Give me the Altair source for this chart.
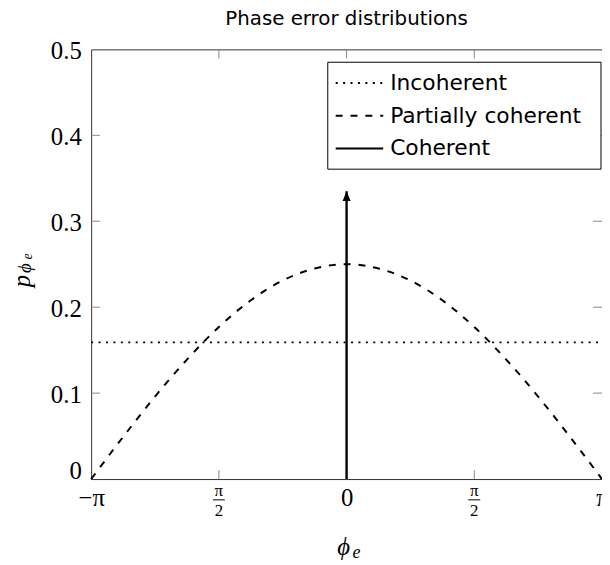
import math
import altair as alt
import pandas as pd

PI = math.pi

# ---- data ----
series = ["Incoherent", "Partially coherent", "Coherent"]

incoherent_x = [-PI, PI]
incoherent_y = [0.159, 0.159]

partial_x = [-PI, -7 * PI / 8, -3 * PI / 4, -5 * PI / 8, -PI / 2, -3 * PI / 8, -PI / 4, -PI / 8, 0.0,
             PI / 8, PI / 4, 3 * PI / 8, PI / 2, 5 * PI / 8, 3 * PI / 4, 7 * PI / 8, PI]
partial_y = [0.0, 0.049, 0.096, 0.139, 0.177, 0.208, 0.231, 0.245, 0.25,
             0.245, 0.231, 0.208, 0.177, 0.139, 0.096, 0.049, 0.0]

coherent_x = [0.0, 0.0]
coherent_y = [0.0, 0.335]

x_ticks = [-PI, -PI / 2, 0.0, PI / 2, PI]
y_ticks = [0.0, 0.1, 0.2, 0.3, 0.4, 0.5]
frac_ticks = [-PI / 2, PI / 2]

title_text = "Phase error distributions"

# ---- tables ----
def table(name, xs, ys):
    return pd.DataFrame({"series": name, "x": xs, "y": ys, "o": list(range(len(xs)))})

df_inc = table(series[0], incoherent_x, incoherent_y)
df_par = table(series[1], partial_x, partial_y)
df_coh = table(series[2], coherent_x, coherent_y)
df_tip = df_coh.iloc[[-1]]
df_xt = pd.DataFrame({"x": x_ticks[1:-1]})
df_yt = pd.DataFrame({"y": y_ticks[1:-1]})
df_frac = pd.DataFrame({"x": frac_ticks})
one = pd.DataFrame({"a": [0]})

W, H = 516, 434
x_scale = alt.Scale(domain=[-PI, PI], nice=False, zero=False)
y_scale = alt.Scale(domain=[0, 0.5], nice=False)
dash_scale = alt.Scale(domain=series, range=[[2, 5.5], [7, 8], [1, 0]])

x_axis = alt.Axis(
    values=x_ticks, title=None, grid=False, ticks=False, domain=False,
    labelExpr="datum.value < -3 ? '\u2212\u03c0' : (datum.value > 3 ? '\u03c0' : (abs(datum.value) < 0.01 ? '0' : ''))",
    labelFont="Liberation Serif", labelFontSize=25, labelColor="black",
    labelPadding=7, labelFlush=False, labelOverlap=False,
)
y_axis = alt.Axis(
    values=y_ticks, title=None, grid=False, ticks=False, domain=False,
    labelExpr="datum.value == 0 ? '0' : format(datum.value, '.1f')",
    labelFont="Liberation Serif", labelFontSize=25, labelColor="black",
    labelPadding=10, labelFlush=False, labelOverlap=False,
    labelOffset={"condition": {"test": "datum.value == 0", "value": -9}, "value": 1},
)

base_enc = dict(
    x=alt.X("x:Q", scale=x_scale, axis=x_axis),
    y=alt.Y("y:Q", scale=y_scale, axis=y_axis),
    strokeDash=alt.StrokeDash("series:N", scale=dash_scale, legend=None),
    order="o:Q",
)

inc = alt.Chart(df_inc).mark_line(color="black", strokeWidth=1.8).encode(**base_enc)
par = alt.Chart(df_par).mark_line(color="black", strokeWidth=2, interpolate="monotone").encode(**base_enc)
coh = alt.Chart(df_coh).mark_line(color="black", strokeWidth=2.4, strokeCap="butt").encode(**base_enc)

tip = alt.Chart(df_tip).mark_point(
    shape="M0,-1L-0.8,1L0.8,1Z", size=100, filled=True, color="black", opacity=1, yOffset=5
).encode(x=alt.X("x:Q", scale=x_scale), y=alt.Y("y:Q", scale=y_scale))

tick_color = "#888"
xt_bottom = alt.Chart(df_xt).mark_rule(color=tick_color, strokeWidth=1).encode(
    x=alt.X("x:Q", scale=x_scale), y=alt.value(H), y2=alt.value(H - 9))
xt_top = alt.Chart(df_xt).mark_rule(color=tick_color, strokeWidth=1).encode(
    x=alt.X("x:Q", scale=x_scale), y=alt.value(0), y2=alt.value(9))
yt_left = alt.Chart(df_yt).mark_rule(color=tick_color, strokeWidth=1).encode(
    y=alt.Y("y:Q", scale=y_scale), x=alt.value(0), x2=alt.value(9))
yt_right = alt.Chart(df_yt).mark_rule(color=tick_color, strokeWidth=1).encode(
    y=alt.Y("y:Q", scale=y_scale), x=alt.value(W - 9), x2=alt.value(W))

frac_num = alt.Chart(df_frac).mark_text(
    text="\u03c0", font="Liberation Serif", fontSize=17, align="center", baseline="middle", color="black"
).encode(x=alt.X("x:Q", scale=x_scale), y=alt.value(446))
frac_bar = alt.Chart(df_frac).mark_rule(color="black", strokeWidth=1, xOffset=-6, x2Offset=6).encode(
    x=alt.X("x:Q", scale=x_scale), x2="x:Q", y=alt.value(455))
frac_den = alt.Chart(df_frac).mark_text(
    text="2", font="Liberation Serif", fontSize=17, align="center", baseline="middle", color="black"
).encode(x=alt.X("x:Q", scale=x_scale), y=alt.value(466))

def txt(s, size, xv, yv, angle=0, font="Liberation Serif", style="italic", align="center", baseline="middle"):
    return alt.Chart(one).mark_text(
        text=s, font=font, fontStyle=style, fontSize=size,
        align=align, baseline=baseline, color="black", angle=angle,
    ).encode(x=alt.value(xv), y=alt.value(yv))

xtitle_phi = txt("\u03d5", 25, 255, 503)
xtitle_e = txt("e", 18, 268, 509)
ytitle_p = txt("p", 25, -70, 234, 270)
ytitle_phi = txt("\u03d5", 19, -67, 221, 270)
ytitle_e = txt("e", 14, -64, 209, 270)

title = txt(title_text, 20, W / 2, -25, font="DejaVu Sans", style="normal", baseline="alphabetic")

# ---- legend box (inside the plot, top right) ----
leg_box = alt.Chart(one).mark_rect(fill="white", stroke="black", strokeWidth=1).encode(
    x=alt.value(239), x2=alt.value(515), y=alt.value(13), y2=alt.value(121))
leg_layers = [leg_box]
for i, name in enumerate(series):
    yv = 34 + 33 * i
    row = pd.DataFrame({"series": [name]})
    leg_layers.append(
        alt.Chart(row).mark_rule(color="black", strokeWidth=2).encode(
            x=alt.value(247), x2=alt.value(295), y=alt.value(yv),
            strokeDash=alt.StrokeDash("series:N", scale=dash_scale, legend=None))
    )
    leg_layers.append(
        alt.Chart(row).mark_text(font="DejaVu Sans", fontSize=22, align="left", baseline="middle",
                                 color="black").encode(
            x=alt.value(302), y=alt.value(yv), text="series:N")
    )

chart = alt.layer(
    xt_bottom, xt_top, yt_left, yt_right,
    inc, par, coh, tip,
    *leg_layers,
    frac_num, frac_bar, frac_den,
    xtitle_phi, xtitle_e, ytitle_p, ytitle_phi, ytitle_e, title,
).properties(
    width=W, height=H,
    autosize=alt.AutoSizeParams(type="none"),
    padding={"left": 84, "top": 39, "right": 0, "bottom": 84},
).configure_view(stroke="#333", strokeWidth=1)

chart.save("out.html", embed_options={"renderer": "svg", "actions": False})
